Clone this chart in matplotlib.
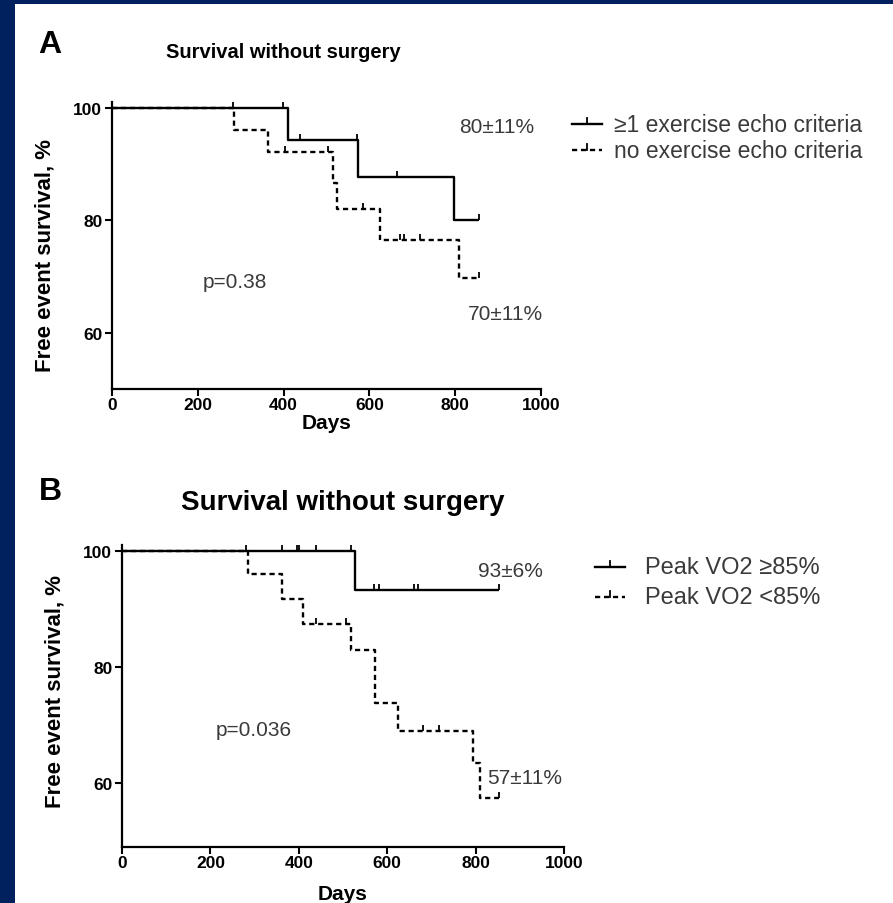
import numpy as np
import matplotlib
matplotlib.use('Agg')
import matplotlib.pyplot as plt
from matplotlib.patches import Rectangle

plt.rcParams['font.family'] = ['Liberation Sans', 'DejaVu Sans']

###############################
# Kaplan-Meier steps, panel A
a_yes_days = [0, 410, 573, 797, 855]
a_yes_surv = [100, 94.4, 87.8, 80.0, 80.0]
a_yes_cens = [283, 398, 438, 570, 664, 855]

a_no_days = [0, 285, 363, 516, 525, 625, 810, 855]
a_no_surv = [100, 96.1, 92.1, 86.7, 82.0, 76.6, 69.8, 69.8]
a_no_cens = [403, 503, 586, 671, 681, 718, 855]

# Kaplan-Meier steps, panel B
b_hi_days = [0, 528, 854]
b_hi_surv = [100, 93.3, 93.3]
b_hi_cens = [280, 363, 397, 401, 439, 518, 571, 582, 661, 669, 854]

b_lo_days = [0, 284, 362, 410, 518, 572, 624, 795, 811, 854]
b_lo_surv = [100, 96.1, 91.8, 87.5, 83.0, 73.8, 68.9, 63.4, 57.4, 57.4]
b_lo_cens = [439, 507, 680, 718, 854]

labels_a = ['\u22651 exercise echo criteria', 'no exercise echo criteria']
labels_b = ['Peak VO2 \u226585%', 'Peak VO2 <85%']
x_ticks = [0, 200, 400, 600, 800, 1000]
y_ticks = [60, 80, 100]

navy = '#00205e'
grey = '#3a3a3a'
dash = (0, (2.2, 1.6))
tick_up = [(0, 0), (0, 1)]


def surv_at(days, surv, t):
    idx = np.searchsorted(days, t, side='right') - 1
    return surv[idx]


def km(ax, days, surv, cens, ls):
    ax.step(days, surv, where='post', color='black', lw=1.7, ls=ls,
            solid_capstyle='butt')
    cy = [surv_at(days, surv, t) for t in cens]
    ax.plot(cens, cy, ls='none', marker=tick_up, ms=9, mew=1.3,
            color='black')


def style(ax, ymin, xlab_y, ylab_xy):
    for s in ['top', 'right']:
        ax.spines[s].set_visible(False)
    for s in ['left', 'bottom']:
        ax.spines[s].set_linewidth(1.6)
    ax.set_xlim(0, 1000)
    ax.set_ylim(ymin, 101)
    ax.set_xticks(x_ticks)
    ax.set_yticks(y_ticks)
    ax.tick_params(length=5, width=1.5, labelsize=12.5, pad=2)
    ax.tick_params(axis='x', pad=1)
    for lab in ax.get_xticklabels() + ax.get_yticklabels():
        lab.set_fontweight('bold')
    ax.set_xlabel('Days', fontsize=15, fontweight='bold', va='center')
    ax.set_ylabel('Free event survival, %', fontsize=16, fontweight='bold',
                  va='center')
    ax.xaxis.set_label_coords(0.5, xlab_y)
    ax.yaxis.set_label_coords(*ylab_xy)
    ax.set_facecolor('none')


fig = plt.figure(figsize=(8.93, 9.04), dpi=100)
fig.patch.set_facecolor(navy)
fig.patches.append(Rectangle((15 / 893, 0), 1, 1 - 5 / 904,
                             transform=fig.transFigure, facecolor='white',
                             edgecolor='none', zorder=-10))

###############################
# panel A
axA = fig.add_axes([0.1254, 0.5686, 0.4804, 0.317])
km(axA, a_yes_days, a_yes_surv, a_yes_cens, '-')
km(axA, a_no_days, a_no_surv, a_no_cens, dash)
style(axA, 50, -0.118, (-0.156, 0.468))
axA.text(897, 96.8, '%d\u00b111%%' % a_yes_surv[-1],
         fontsize=15, color=grey, ha='center', va='center')
axA.text(918, 63.4, '%d\u00b111%%' % round(a_no_surv[-1]),
         fontsize=15, color=grey, ha='center', va='center')
axA.text(287, 69.1, 'p=0.38', fontsize=15, color=grey,
         ha='center', va='center')

fig.text(50 / 893, 1 - 45 / 904, 'A', fontsize=23, fontweight='bold',
         ha='center', va='center')
fig.text(283 / 893, 1 - 52 / 904, 'Survival without surgery', fontsize=14.5,
         fontweight='bold', ha='center', va='center')

###############################
# panel B
axB = fig.add_axes([0.1366, 0.062, 0.495, 0.3338])
km(axB, b_hi_days, b_hi_surv, b_hi_cens, '-')
km(axB, b_lo_days, b_lo_surv, b_lo_cens, dash)
style(axB, 49, -0.155, (-0.152, 0.52))
axB.text(878, 96.7, '%d\u00b16%%' % round(b_hi_surv[-1]),
         fontsize=15, color=grey, ha='center', va='center')
axB.text(826, 60.9, '%d\u00b111%%' % b_lo_surv[-1],
         fontsize=15, color=grey, ha='left', va='center')
axB.text(299, 69.2, 'p=0.036', fontsize=15, color=grey,
         ha='center', va='center')

fig.text(50 / 893, 1 - 492 / 904, 'B', fontsize=23, fontweight='bold',
         ha='center', va='center')
fig.text(343 / 893, 1 - 503 / 904, 'Survival without surgery', fontsize=20,
         fontweight='bold', ha='center', va='center')

###############################
# legends drawn as line samples plus text
def legend_row(x0, y, ls, text, size, gap):
    xs = np.array([x0, x0 + 30]) / 893
    ys = np.array([y, y]) / 904
    fig.add_artist(plt.Line2D(xs, 1 - ys, color='black', lw=1.7, ls=ls))
    fig.add_artist(plt.Line2D([xs.mean(), xs.mean()],
                              [1 - y / 904, 1 - (y - 6) / 904],
                              color='black', lw=1.3))
    fig.text((x0 + gap) / 893, 1 - y / 904, text, fontsize=size,
             color=grey, ha='left', va='center')


legend_row(572, 125, '-', labels_a[0], 16.5, 42)
legend_row(572, 151, dash, labels_a[1], 16.5, 42)
legend_row(595, 568, '-', labels_b[0], 17, 50)
legend_row(595, 598, dash, labels_b[1], 17, 50)

plt.savefig('out.png', dpi=100, facecolor=fig.get_facecolor())
